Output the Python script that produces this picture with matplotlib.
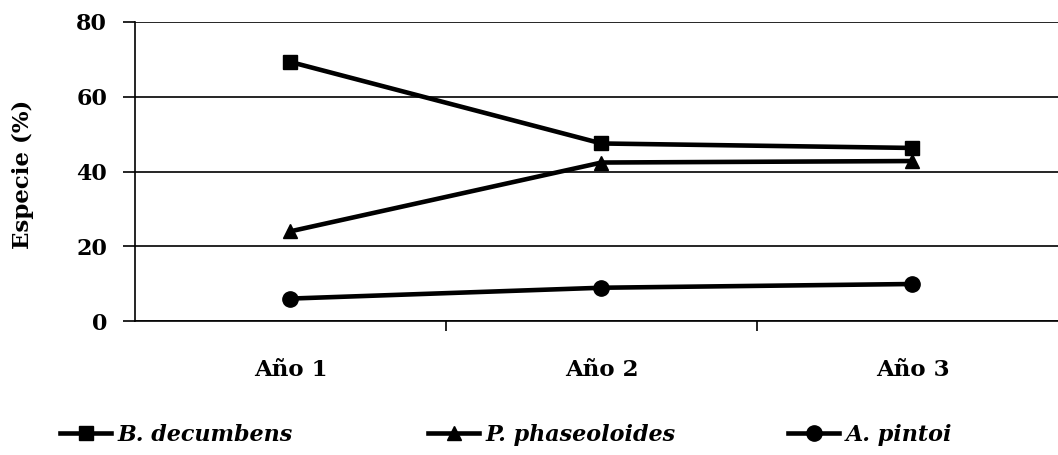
import matplotlib
matplotlib.use("Agg")
import matplotlib.pyplot as plt

years = ["Año 1", "Año 2", "Año 3"]
b_decumbens = [69.3, 47.5, 46.3]
p_phaseoloides = [24.0, 42.4, 42.8]
a_pintoi = [6.0, 8.9, 9.9]
yticks = [0, 20, 40, 60, 80]
series_names = ["B. decumbens", "P. phaseoloides", "A. pintoi"]

plt.rcParams['font.family'] = ['DejaVu Serif']

fig = plt.figure(figsize=(10.58, 4.55), dpi=100)
ax = fig.add_axes([135/1058, 1-321/455, 933/1058, 299/455])

x = list(range(len(years)))
lw = 3.3
l1, = ax.plot(x, b_decumbens, color='black', lw=lw, marker='s', ms=10, clip_on=False)
l2, = ax.plot(x, p_phaseoloides, color='black', lw=lw, marker='^', ms=10.5, clip_on=False)
l3, = ax.plot(x, a_pintoi, color='black', lw=lw, marker='o', ms=11, clip_on=False)

ax.set_xlim(-0.5, 2.5)
ax.set_ylim(0, 80)
ax.set_yticks(yticks)
ax.set_yticklabels([str(v) for v in yticks], fontsize=16, fontweight='bold')
ax.yaxis.grid(True, color='black', lw=1.2)
ax.set_axisbelow(True)

ax.set_xticks(x)
ax.set_xticklabels(years, fontsize=16.5, fontweight='bold')
ax.tick_params(axis='x', which='major', length=0, pad=27)
ax.set_xticks([0.5, 1.5], minor=True)
ax.tick_params(axis='x', which='minor', length=7, width=1.2, direction='out')
ax.tick_params(axis='y', length=9, width=1.2, pad=11)

for s in ['top', 'right']:
    ax.spines[s].set_visible(False)
for s in ['left', 'bottom']:
    ax.spines[s].set_linewidth(1.2)

ax.set_ylabel("Especie (%)", fontsize=16.5, fontweight='bold')
ax.yaxis.set_label_coords(-0.108, 0.49)

handles = [l1, l2, l3]
xpos = [60/1058, 428/1058, 788/1058]
for h, name, xp in zip(handles, series_names, xpos):
    fig.legend([h], [name], loc='center left', bbox_to_anchor=(xp, 1-435/455),
               frameon=False, handlelength=2.3, handletextpad=0.3,
               borderpad=0, borderaxespad=0,
               prop={'family': 'DejaVu Serif', 'weight': 'bold', 'style': 'italic', 'size': 16})

fig.savefig("out.png", dpi=100)
